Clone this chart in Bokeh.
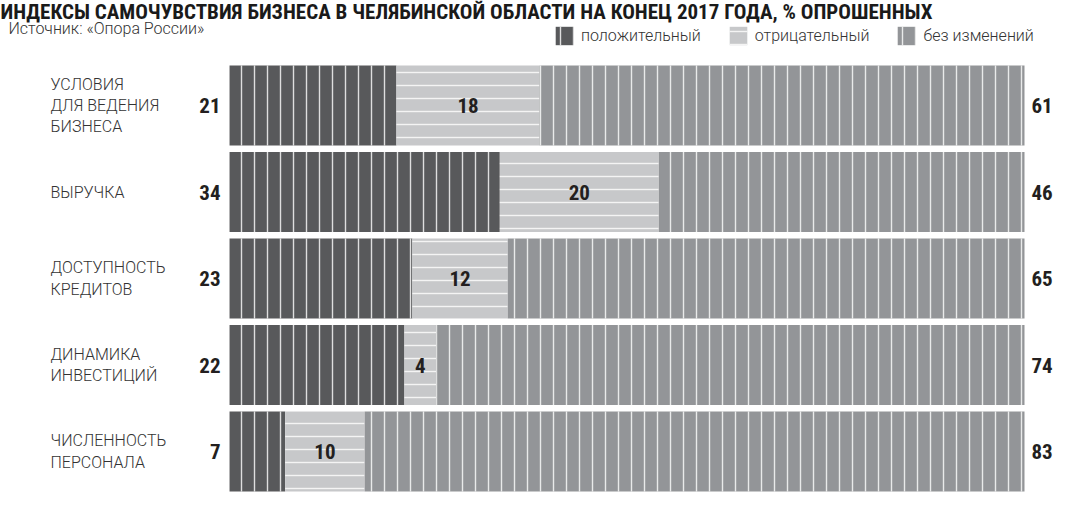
from bokeh.plotting import figure
from bokeh.models import Range1d, Label, Legend, LegendItem, ColumnDataSource
from bokeh.core.properties import value
from bokeh.embed import file_html
from bokeh.resources import INLINE
import numpy as np

# ---- data ----
categories = ["УСЛОВИЯ\nДЛЯ ВЕДЕНИЯ\nБИЗНЕСА", "ВЫРУЧКА", "ДОСТУПНОСТЬ\nКРЕДИТОВ",
              "ДИНАМИКА\nИНВЕСТИЦИЙ", "ЧИСЛЕННОСТЬ\nПЕРСОНАЛА"]
positive = [21, 34, 23, 22, 7]
negative = [18, 20, 12, 4, 10]
unchanged = [61, 46, 65, 74, 83]
series_names = ["положительный", "отрицательный", "без изменений"]
title_text = "ИНДЕКСЫ САМОЧУВСТВИЯ БИЗНЕСА В ЧЕЛЯБИНСКОЙ ОБЛАСТИ НА КОНЕЦ 2017 ГОДА, % ОПРОШЕННЫХ"
source_text = "Источник: «Опора России»"

W, H = 1054, 492
x0_px, x100_px = 229, 1024
k = (x100_px - x0_px) / 100.0
row0_px, pitch = 105, 86.5

COL_POS = "#58595b"
COL_NEG = "#c7c8ca"
COL_UNCH = "#939598"
NUM_FONT_NAME = "Roboto Condensed, DejaVu Sans Condensed, Roboto"
LBL_FONT_NAME = "Roboto Light, Roboto"
NUM_FONT = value(NUM_FONT_NAME)
LBL_FONT = value(LBL_FONT_NAME)

idx = np.arange(len(categories))
pos = np.array(positive, dtype=float)
neg = np.array(negative, dtype=float)
unc = np.array(unchanged, dtype=float)

src = ColumnDataSource(dict(
    y=idx, cat=categories,
    pos_l=np.zeros_like(pos), pos_r=pos,
    neg_l=pos, neg_r=pos + neg,
    unc_l=pos + neg, unc_r=pos + neg + unc,
    neg_mid=pos + neg / 2.0,
    pos_t=[str(v) for v in positive],
    neg_t=[str(v) for v in negative],
    unc_t=[str(v) for v in unchanged],
    zero=np.zeros_like(pos), hund=pos + neg + unc,
))

p = figure(width=W, height=H, output_backend="svg", toolbar_location=None,
           x_range=Range1d(-x0_px / k, (W - x0_px) / k),
           y_range=Range1d((H - row0_px) / pitch, -row0_px / pitch),
           x_axis_location=None, y_axis_location=None, min_border=0,
           outline_line_color=None, background_fill_color="white")
p.grid.visible = False

bh = 80 / pitch
hatch = dict(hatch_scale=13, hatch_weight=1.4, hatch_color="white", hatch_alpha=0.8, line_color=None)
r1 = p.hbar(y="y", left="pos_l", right="pos_r", height=bh, fill_color=COL_POS,
            hatch_pattern="vertical_line", source=src, **hatch)
r2 = p.hbar(y="y", left="neg_l", right="neg_r", height=bh, fill_color=COL_NEG,
            hatch_pattern="horizontal_line", source=src, **hatch)
r3 = p.hbar(y="y", left="unc_l", right="unc_r", height=bh, fill_color=COL_UNCH,
            hatch_pattern="vertical_line", source=src, **hatch)

# numbers
num_kw = dict(text_baseline="middle", text_font=NUM_FONT, text_font_style="bold",
              text_font_size="21px", text_color="#231f20", source=src)
p.text(x="zero", y="y", text="pos_t", x_offset=-9, text_align="right", **num_kw)
p.text(x="neg_mid", y="y", text="neg_t", text_align="center", **num_kw)
p.text(x="hund", y="y", text="unc_t", x_offset=7, text_align="left", **num_kw)
# category labels
p.text(x="zero", y="y", text="cat", source=src, x_offset=-(x0_px - 50), text_align="left",
       text_baseline="middle", text_font=LBL_FONT, text_font_size="16px",
       text_color="#333333", text_line_height=1.12)

# title and source
p.add_layout(Label(x=0, y=H - 11, x_units="screen", y_units="screen", text=title_text,
                   text_font=NUM_FONT_NAME, text_font_style="bold", text_font_size="21px",
                   text_color="#1a1a1a", text_baseline="alphabetic"))
p.add_layout(Label(x=8, y=H - 28, x_units="screen", y_units="screen", text=source_text,
                   text_font=LBL_FONT_NAME, text_font_size="16px",
                   text_color="#333333", text_baseline="alphabetic"))

legend = Legend(items=[LegendItem(label=series_names[0], renderers=[r1]),
                       LegendItem(label=series_names[1], renderers=[r2]),
                       LegendItem(label=series_names[2], renderers=[r3])],
                orientation="horizontal", location=(553, H - 47),
                glyph_width=22, glyph_height=23, label_standoff=6, spacing=26,
                padding=0, margin=0, border_line_color=None, background_fill_alpha=0,
                label_text_font=LBL_FONT_NAME, label_text_font_size="16px",
                label_text_color="#333333", label_height=23)
p.add_layout(legend)

open("out.html", "w").write(file_html(p, INLINE))
